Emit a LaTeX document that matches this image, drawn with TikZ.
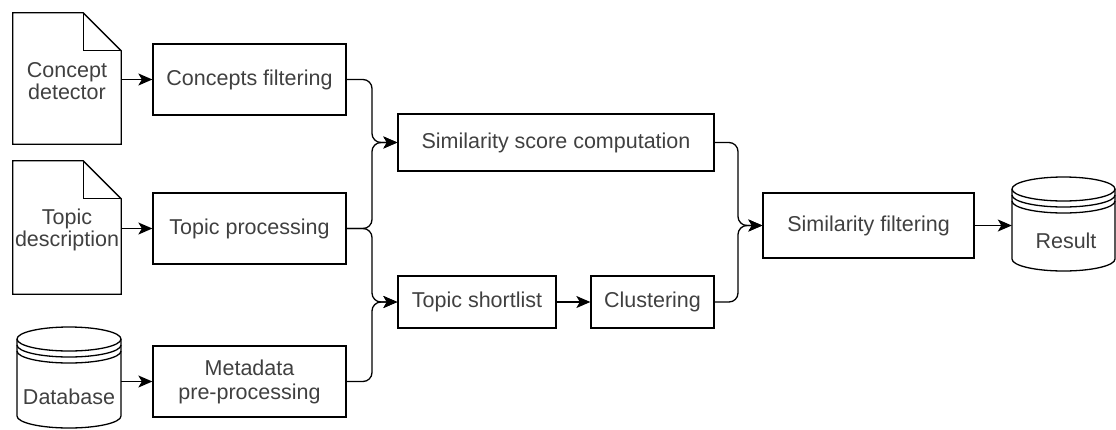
\documentclass[tikz,border=0pt]{standalone}
\usepackage{fontspec}
\setmainfont{Liberation Sans}
\usetikzlibrary{arrows.meta}
\definecolor{txt}{RGB}{64,64,64}
\tikzset{
  every node/.style={font=\fontsize{21.5}{25}\selectfont, text=txt},
  box/.style={draw=black, line width=1.3pt, rectangle, inner sep=0pt, align=center},
  ghost/.style={rectangle, inner sep=0pt, align=center},
  shapeline/.style={draw=black, line width=1.3pt, line join=miter},
  conn/.style={draw=black, line width=1.3pt, -{Stealth[length=14pt,width=12pt,inset=3.5pt]}},
  bracketconn/.style={conn, rounded corners=9pt},
}
\begin{document}
\begin{tikzpicture}[x=1pt,y=1pt]
\useasboundingbox (0,0) rectangle (1116,-429);

% documents
\node[ghost, minimum width=108pt, minimum height=131pt] (cd) at (67,-78.5) {};
\node[ghost, minimum width=108pt, minimum height=133pt] (td) at (67,-227.5) {};
\foreach \d in {cd,td}{
  \draw[shapeline] (\d.north west) -- ([xshift=-38pt]\d.north east) -- ([yshift=-38pt]\d.north east) -- (\d.south east) -- (\d.south west) -- cycle;
  \draw[shapeline] ([xshift=-38pt]\d.north east) -- ([xshift=-38pt,yshift=-38pt]\d.north east) -- ([yshift=-38pt]\d.north east);
}
\node[align=center] at (67,-81) {Concept\\[-3pt]detector};
\node[align=center] at (67,-230) {Topic\\[-3pt]description};

% database cylinder
\node[ghost, minimum width=104pt, minimum height=101pt] (db) at (69,-377.5) {};
\draw[shapeline] (17,-339) arc[start angle=180,end angle=0,x radius=52,y radius=12] -- (121,-416) arc[start angle=0,end angle=-180,x radius=52,y radius=12] -- cycle;
\draw[shapeline] (17,-339) arc[start angle=180,end angle=360,x radius=52,y radius=12];
\draw[shapeline] (17,-345) arc[start angle=180,end angle=360,x radius=52,y radius=12];
\draw[shapeline] (17,-351) arc[start angle=180,end angle=360,x radius=52,y radius=12];
\node at (69,-397) {Database};

% result cylinder
\node[ghost, minimum width=103pt, minimum height=94pt] (res) at (1063.5,-224) {};
\draw[shapeline] (1012,-189) arc[start angle=180,end angle=0,x radius=51.5,y radius=12] -- (1115,-259) arc[start angle=0,end angle=-180,x radius=51.5,y radius=12] -- cycle;
\draw[shapeline] (1012,-189) arc[start angle=180,end angle=360,x radius=51.5,y radius=12];
\draw[shapeline] (1012,-195) arc[start angle=180,end angle=360,x radius=51.5,y radius=12];
\draw[shapeline] (1012,-201) arc[start angle=180,end angle=360,x radius=51.5,y radius=12];
\node at (1066,-241) {Result};

% process boxes
\node[box, minimum width=193pt, minimum height=71pt] (cf) at (249.5,-79.5) {Concepts filtering};
\node[box, minimum width=193pt, minimum height=71pt] (tp) at (249.5,-228.5) {Topic processing};
\node[box, minimum width=193pt, minimum height=71pt] (md) at (249.5,-381.5) {Metadata\\[-1pt]pre-processing};
\node[box, minimum width=316pt, minimum height=57pt] (ssc) at (556,-142.5) {Similarity score computation};
\node[box, minimum width=158pt, minimum height=52pt] (ts) at (477,-302) {Topic shortlist};
\node[box, minimum width=123pt, minimum height=52pt] (cl) at (652.5,-302) {Clustering};
\node[box, minimum width=211pt, minimum height=65pt] (sf) at (868.5,-225.5) {Similarity filtering};

% straight arrows
\draw[conn] (cd.east |- cf.west) -- (cf.west);
\draw[conn] (td.east |- tp.west) -- (tp.west);
\draw[conn] (db.east |- md.west) -- (md.west);
\draw[conn] (ts) -- (cl);
\draw[conn] (sf) -- (res.west |- sf.east);

% bracket connectors
\draw[bracketconn] (cf.east) -- (372,-79.5) -- (372,-142.5) -- (ssc.west);
\draw[bracketconn] (tp.east) -- (372,-228.5) -- (372,-142.5) -- (ssc.west);
\draw[bracketconn] (tp.east) -- (372,-228.5) -- (372,-302) -- (ts.west);
\draw[bracketconn] (md.east) -- (372,-381.5) -- (372,-302) -- (ts.west);
\draw[bracketconn] (ssc.east) -- (738,-142.5) -- (738,-225.5) -- (sf.west);
\draw[bracketconn] (cl.east) -- (738,-302) -- (738,-225.5) -- (sf.west);
\end{tikzpicture}
\end{document}
